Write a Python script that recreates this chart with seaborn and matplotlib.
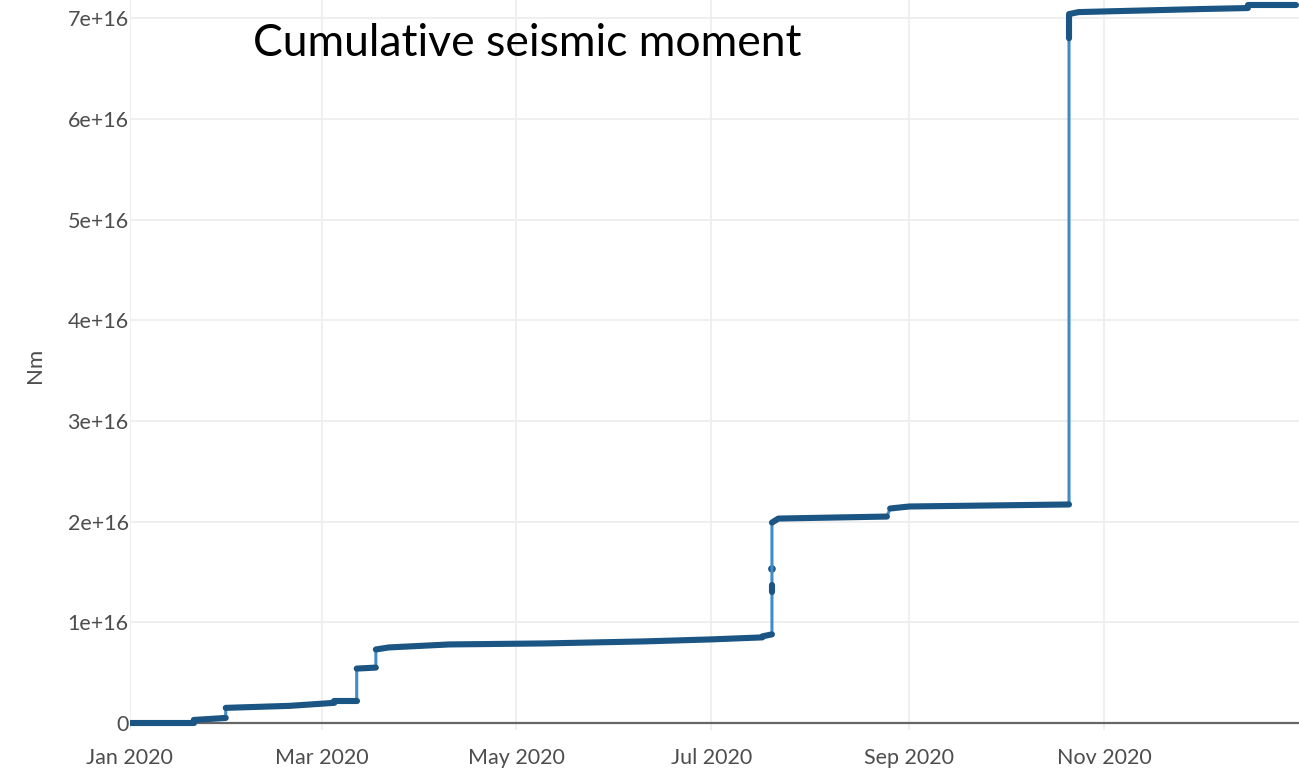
import pandas as pd
import matplotlib
matplotlib.use("Agg")
import matplotlib.pyplot as plt
import matplotlib.dates as mdates
import seaborn as sns

# Cumulative seismic moment (units of 1e16 Nm)
# each segment = a run of events between two jumps
seg_ids = [1, 1,
           2, 2,
           3, 3, 3,
           4, 4,
           5, 5,
           6, 6, 6, 6, 6, 6, 6,
           7, 7,
           8, 8,
           9, 9, 9,
           10, 10, 10,
           11, 11, 11, 11, 11,
           12, 12]
seg_dates = ["2020-01-01", "2020-01-21",
             "2020-01-21", "2020-01-31",
             "2020-01-31", "2020-02-20", "2020-03-05",
             "2020-03-05", "2020-03-12",
             "2020-03-12", "2020-03-18",
             "2020-03-18", "2020-03-22", "2020-04-10", "2020-05-10", "2020-06-10", "2020-07-01", "2020-07-17",
             "2020-07-17", "2020-07-20",
             "2020-07-20", "2020-07-20",
             "2020-07-20", "2020-07-22", "2020-08-25",
             "2020-08-26", "2020-09-01", "2020-10-21",
             "2020-10-21", "2020-10-21", "2020-10-24", "2020-12-01", "2020-12-16",
             "2020-12-16", "2020-12-31"]
seg_vals = [0.00, 0.00,
            0.03, 0.05,
            0.15, 0.17, 0.20,
            0.22, 0.22,
            0.54, 0.55,
            0.73, 0.75, 0.78, 0.79, 0.81, 0.83, 0.85,
            0.86, 0.88,
            1.30, 1.37,
            1.99, 2.03, 2.05,
            2.13, 2.15, 2.17,
            6.80, 7.04, 7.06, 7.09, 7.10,
            7.13, 7.13]

# isolated events on the July jump
iso_dates = ["2020-07-20"]
iso_vals = [1.53]

x_ticks = ["2020-01-01", "2020-03-01", "2020-05-01", "2020-07-01", "2020-09-01", "2020-11-01"]
y_ticks = [0, 1, 2, 3, 4, 5, 6, 7]
y_labels = ["0", "1e+16", "2e+16", "3e+16", "4e+16", "5e+16", "6e+16", "7e+16"]

df = pd.DataFrame({"segment": seg_ids,
                   "date": pd.to_datetime(seg_dates),
                   "moment": [v * 1e16 for v in seg_vals]})
iso = pd.DataFrame({"date": pd.to_datetime(iso_dates),
                    "moment": [v * 1e16 for v in iso_vals]})

sns.set_theme(style="whitegrid")
plt.rcParams["font.family"] = ["Lato", "DejaVu Sans"]

light = "#3f8cc8"
dark = "#1b5584"

fig = plt.figure(figsize=(12.99, 7.73), dpi=100)
ax = fig.add_axes([0.1, 0.0556, 0.9, 0.9444])

# thin connecting line (shows the jumps)
sns.lineplot(data=df, x="date", y="moment", estimator=None, sort=False,
             color=light, linewidth=2.2, ax=ax)
# dense event runs drawn dark and thick
sns.lineplot(data=df, x="date", y="moment", units="segment", estimator=None,
             sort=False, color=dark, linewidth=4.4, solid_capstyle="round", ax=ax)
sns.scatterplot(data=iso, x="date", y="moment", color=dark, s=30,
                edgecolor="none", ax=ax)

ax.set_xlim(pd.Timestamp("2020-01-01"), pd.Timestamp("2021-01-01"))
ax.set_ylim(-0.07e16, 7.18e16)

ax.set_xticks(pd.to_datetime(x_ticks))
ax.xaxis.set_major_formatter(mdates.DateFormatter("%b %Y"))
ax.set_yticks([v * 1e16 for v in y_ticks])
ax.set_yticklabels(y_labels)

ax.grid(True, color="#eeeeee", linewidth=1.3)
ax.axhline(0, color="#666666", linewidth=1.6, zorder=1.5)
for s in ax.spines.values():
    s.set_visible(False)
ax.tick_params(axis="both", length=0, labelsize=15.5, labelcolor="#4d4d4d")
ax.tick_params(axis="x", pad=13)
ax.tick_params(axis="y", pad=1)

ax.set_xlabel("")
ax.set_ylabel("Nm", fontsize=16, color="#4d4d4d")
ax.yaxis.set_label_coords(-0.073, 0.5)

ax.text(0.105, 0.94, "Cumulative seismic moment", transform=ax.transAxes,
        fontsize=32, color="black", ha="left", va="center")

fig.savefig("out.png", dpi=100)
